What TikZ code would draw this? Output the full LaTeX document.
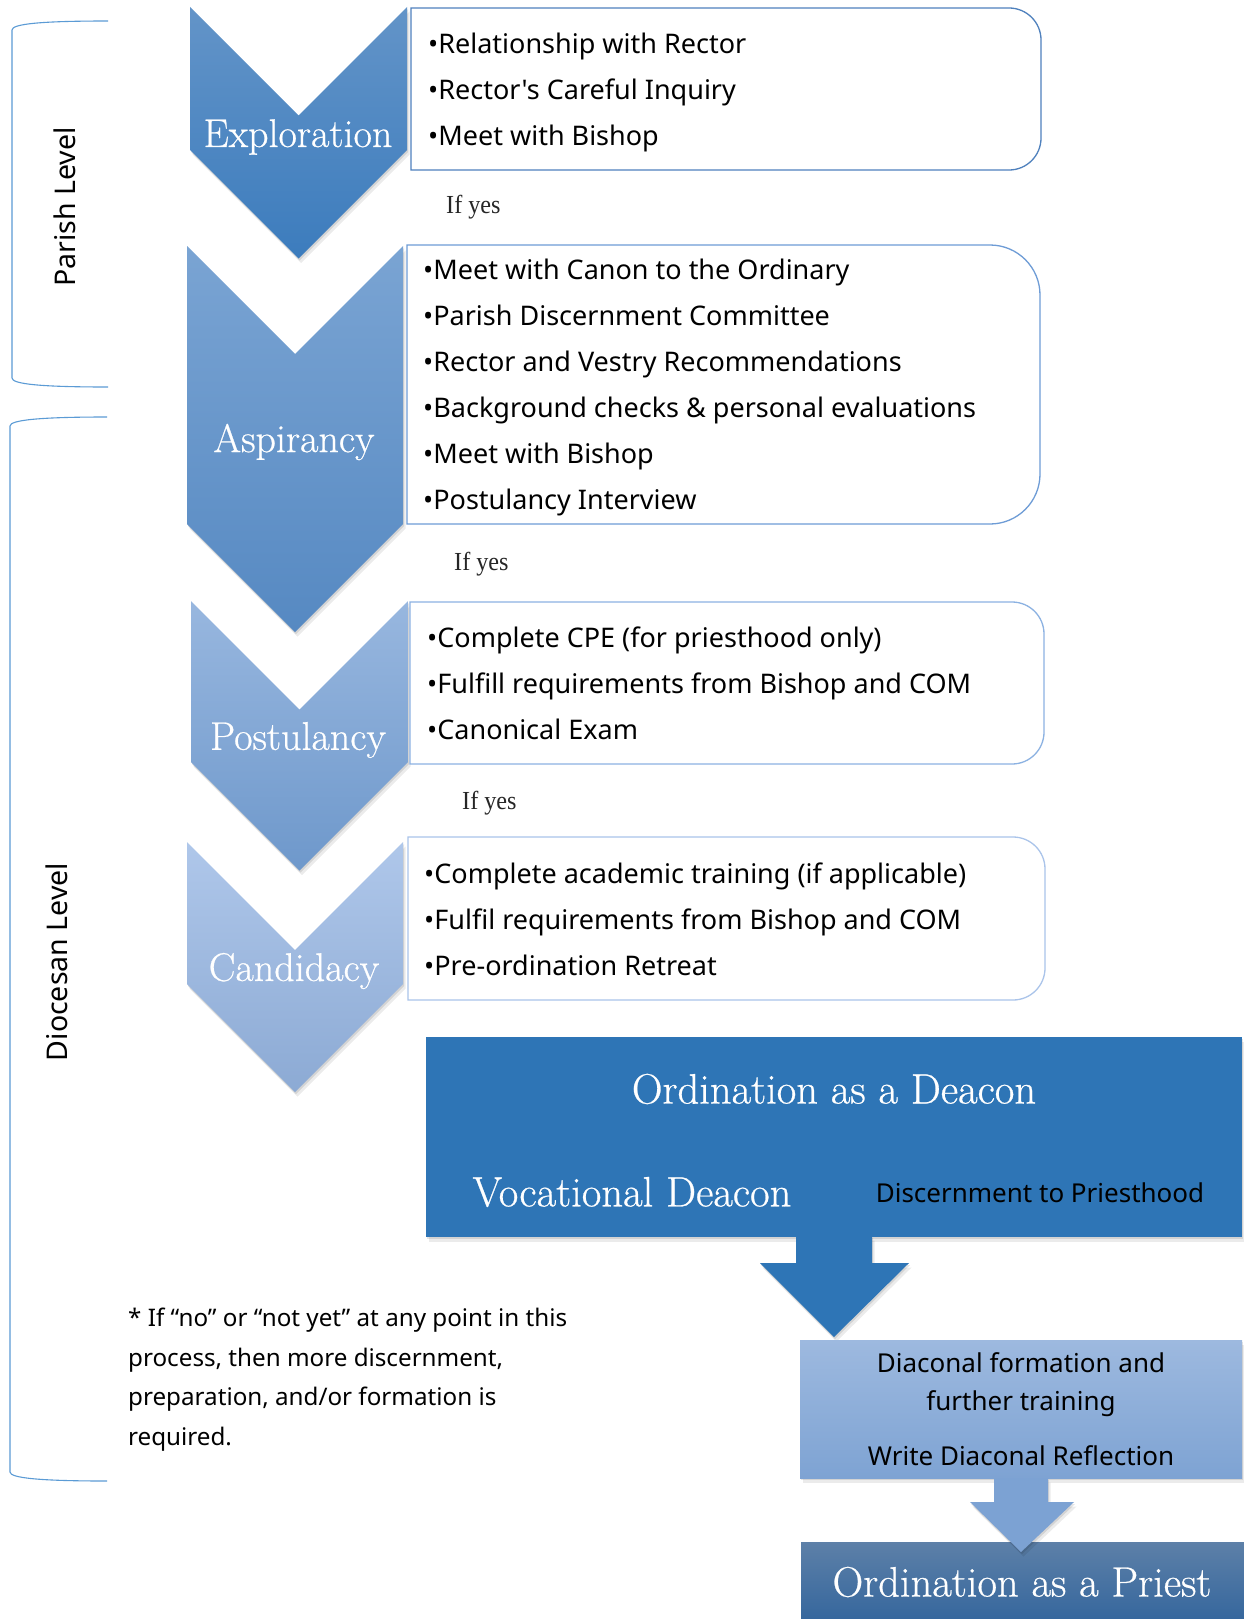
\documentclass[tikz,border=0pt]{standalone}
\usepackage{fontspec}
\newfontfamily\uisans{Noto Sans}[Ligatures=TeXOff]
\newfontfamily\titleserif{Latin Modern Roman}[FakeBold=0.6]
\newfontfamily\noteserif{Liberation Serif}[FakeStretch=0.93]
\usetikzlibrary{shadows}

% stage colours, darkest to lightest
\definecolor{explTop}{RGB}{99,148,200}
\definecolor{explBot}{RGB}{60,124,189}
\definecolor{aspTop}{RGB}{122,164,211}
\definecolor{aspBot}{RGB}{86,137,194}
\definecolor{postTop}{RGB}{152,183,223}
\definecolor{postBot}{RGB}{110,152,203}
\definecolor{candTop}{RGB}{175,199,234}
\definecolor{candBot}{RGB}{140,170,212}
\definecolor{lineA}{RGB}{79,129,189}
\definecolor{lineB}{RGB}{110,156,214}
\definecolor{lineC}{RGB}{140,178,226}
\definecolor{lineD}{RGB}{170,196,234}
\definecolor{deacon}{RGB}{46,117,182}
\definecolor{diacTop}{RGB}{157,185,223}
\definecolor{diacBot}{RGB}{126,163,211}
\definecolor{arrowTwo}{RGB}{124,162,211}
\definecolor{priestTop}{RGB}{93,128,168}
\definecolor{priestBot}{RGB}{54,103,157}
\definecolor{bracket}{RGB}{91,155,213}

\begin{document}
\begin{tikzpicture}[x=1pt,y=-1pt,
  softshadow/.style={drop shadow={shadow xshift=1pt,shadow yshift=-2pt,opacity=0.10,fill=black},
                     drop shadow={shadow xshift=2.5pt,shadow yshift=-4.5pt,opacity=0.08,fill=black}},
  stagelabel/.style={text=white,font=\titleserif\fontsize{40}{44}\selectfont,inner sep=0pt},
  itemlist/.style={anchor=west,align=left,inner sep=0pt,font=\uisans\fontsize{27}{46}\selectfont},
  ifyes/.style={anchor=west,inner sep=0pt,text=black!85,font=\noteserif\fontsize{26}{30}\selectfont},
  listbox/.style={fill=white,line width=1.3pt},
  bigserif/.style={text=white,inner sep=0pt,font=\titleserif\fontsize{42.5}{46}\selectfont},
  plainsans/.style={inner sep=0pt,font=\uisans\fontsize{26}{38}\selectfont},
  levelline/.style={draw=bracket,line width=1.1pt},
  levellabel/.style={rotate=90,inner sep=0pt,font=\uisans\fontsize{28.5}{32}\selectfont}]
\useasboundingbox (0,0) rectangle (1244,1619);
\fill[white] (0,0) rectangle (1244,1619);

% level brackets
\draw[levelline] (108,21) .. controls (40,21) and (12,24) .. (12,30) -- (12,378) .. controls (12,384) and (40,387) .. (108,387);
\draw[levelline] (107,417) .. controls (40,417) and (10,420) .. (10,426) -- (10,1472) .. controls (10,1478) and (40,1481) .. (107,1481);
\node[levellabel] (parish) at (65,207) {Parish Level};
\node[levellabel] (diocesan) at (57,962) {Diocesan Level};

% stage chevrons
\path[softshadow,top color=candTop,bottom color=candBot]
  (187,842) -- (295,950) -- (403,842) -- (403,984) -- (295,1092) -- (187,984) -- cycle;
\path[softshadow,top color=postTop,bottom color=postBot]
  (191,601) -- (299.5,709.5) -- (408,601) -- (408,762) -- (299.5,870.5) -- (191,762) -- cycle;
\path[softshadow,top color=aspTop,bottom color=aspBot]
  (187,246) -- (295,354) -- (403,246) -- (403,524) -- (295,632) -- (187,524) -- cycle;
\path[softshadow,top color=explTop,bottom color=explBot]
  (190,7) -- (298.5,115.5) -- (407,7) -- (407,150) -- (298.5,258.5) -- (190,150) -- cycle;

\node[stagelabel] (exploration) at (298,137) {Exploration};
\node[stagelabel] (aspirancy) at (294,442) {Aspirancy};
\node[stagelabel] (postulancy) at (298,740) {Postulancy};
\node[stagelabel] (candidacy) at (294,971) {Candidacy};

% requirement boxes, rounded on the right side
\draw[listbox,draw=lineA] (411,8) -- (1009,8) .. controls (1026.7,8) and (1041,22.3) .. (1041,40)
  -- (1041,138) .. controls (1041,155.7) and (1026.7,170) .. (1009,170) -- (411,170) -- cycle;
\draw[listbox,draw=lineB] (407,245) -- (990,245) .. controls (1017.6,245) and (1040,267.4) .. (1040,295)
  -- (1040,474) .. controls (1040,501.6) and (1017.6,524) .. (990,524) -- (407,524) -- cycle;
\draw[listbox,draw=lineC] (410,602) -- (1012,602) .. controls (1029.7,602) and (1044,616.3) .. (1044,634)
  -- (1044,732) .. controls (1044,749.7) and (1029.7,764) .. (1012,764) -- (410,764) -- cycle;
\draw[listbox,draw=lineD] (408,837) -- (1013,837) .. controls (1030.7,837) and (1045,851.3) .. (1045,869)
  -- (1045,968) .. controls (1045,985.7) and (1030.7,1000) .. (1013,1000) -- (408,1000) -- cycle;

\node[itemlist] (explList) at (428,92) {•Relationship with Rector\\•Rector's Careful Inquiry\\•Meet with Bishop};
\node[itemlist] (aspList) at (423,387.5) {•Meet with Canon to the Ordinary\\•Parish Discernment Committee\\•Rector and Vestry Recommendations\\•Background checks \& personal evaluations\\•Meet with Bishop\\•Postulancy Interview};
\node[itemlist] (postList) at (427,683) {•Complete CPE (for priesthood only)\\•Fulfill requirements from Bishop and COM\\•Canonical Exam};
\node[itemlist] (candList) at (424,919.5) {•Complete academic training (if applicable)\\•Fulfil requirements from Bishop and COM\\•Pre-ordination Retreat};

\node[ifyes] (yesA) at (446,207) {If yes};
\node[ifyes] (yesB) at (454,564) {If yes};
\node[ifyes] (yesC) at (462,803) {If yes};

% ordination as a deacon
\fill[softshadow,deacon] (426,1037) rectangle (1242,1237);
\node[bigserif] (deaconTitle) at (834,1089) {Ordination as a Deacon};
\node[bigserif] (vocational) at (632,1192) {Vocational Deacon};
\node[plainsans] (discern) at (1040,1193) {Discernment to Priesthood};

% block arrow down to diaconal formation
\fill[softshadow,deacon] (796,1236) -- (872,1236) -- (872,1263) -- (909,1263) -- (834,1337) -- (760,1263) -- (796,1263) -- cycle;

% diaconal formation
\path[softshadow,top color=diacTop,bottom color=diacBot] (800,1340) rectangle (1242,1478);
\node[plainsans,align=center] (formation) at (1021,1385) {Diaconal formation and\\further training};
\node[plainsans] (reflection) at (1021,1456) {Write Diaconal Reflection};

% ordination as a priest
\path[top color=priestTop,bottom color=priestBot] (801,1542) rectangle (1244,1619);
\path[softshadow,fill=arrowTwo] (994,1478) -- (1048,1478) -- (1048,1502) -- (1074,1502) -- (1021,1552) -- (970,1502) -- (994,1502) -- cycle;
\node[bigserif] (priest) at (1022,1582) {Ordination as a Priest};

% footnote
\node[anchor=west,align=left,inner sep=0pt,font=\uisans\fontsize{24.2}{39.6}\selectfont] (footnote) at (128,1379.5)
  {* If “no” or “not yet” at any point in this\\process, then more discernment,\\preparation, and/or formation is\\required.};
\end{tikzpicture}
\end{document}
